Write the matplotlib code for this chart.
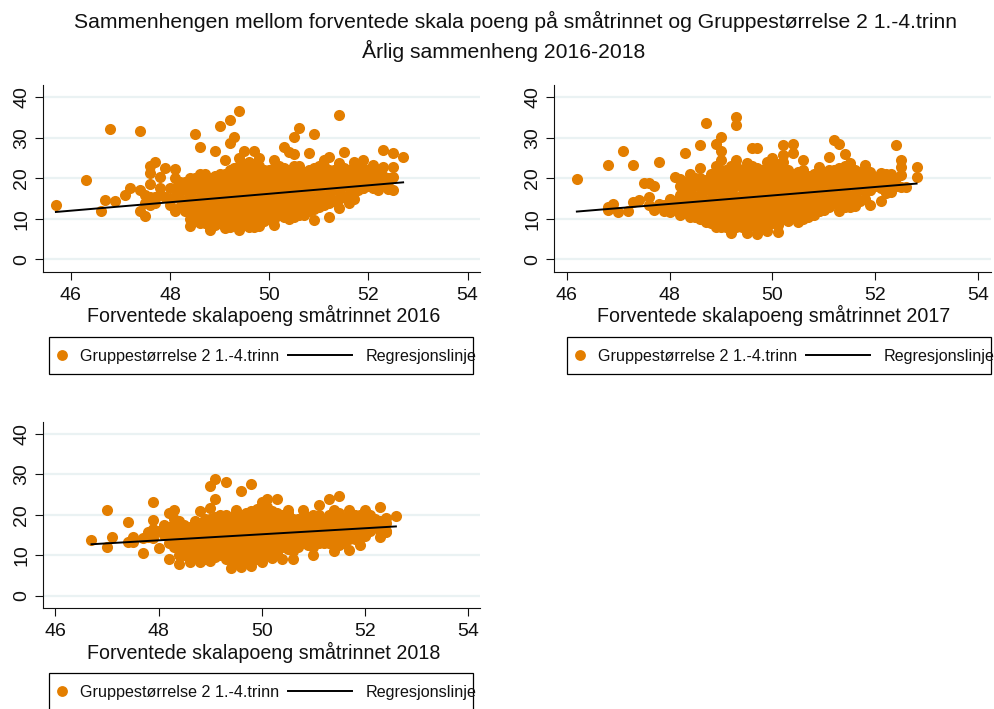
# scatter panels, forventede skalapoeng vs gruppestorrelse, one panel per year
# values, dense middle is typed column by column

import matplotlib
matplotlib.use("Agg")
import matplotlib.pyplot as plt
from matplotlib.lines import Line2D
from matplotlib.patches import Rectangle

plt.rcParams["font.family"] = ["Liberation Sans", "DejaVu Sans"]

W, H = 995, 709
ORANGE = "#E37E00"
GRID = "#EAF2F3"
TEXT = "#111111"
DOT = 64

y_ticks = [0, 10, 20, 30, 40]
x_ticks = [46, 48, 50, 52, 54]
legend_labels = ["Gruppestørrelse 2 1.-4.trinn", "Regresjonslinje"]

# 2016
x_out_2016 = [45.7, 46.3, 46.8, 47.4, 46.6, 46.7, 46.9, 47.1, 47.2, 47.4, 47.4, 47.5, 47.5, 47.6, 47.6, 47.6, 47.6,
              47.7, 47.8, 47.9, 47.8, 47.7, 48.0, 48.1, 48.1, 48.1, 48.0, 48.5, 48.6, 48.9, 49.0, 49.1, 49.2, 49.2,
              49.3, 49.4, 49.4, 49.5, 49.7, 49.8, 50.1, 50.3, 50.4, 50.5, 50.5, 50.6, 50.8, 50.9, 51.4, 51.2, 51.5,
              52.3, 52.5, 52.7, 52.5, 52.5, 52.5, 52.3, 52.1, 51.9, 51.7, 51.4, 51.1, 48.4, 48.8, 49.1, 49.4, 49.7,
              49.8, 50.1, 50.4, 50.7, 50.9, 51.2, 51.4, 51.6, 51.7, 51.9, 52.2, 52.1, 52.4,
              47.5, 47.6, 47.7, 47.8, 47.9, 48.0, 48.1, 48.1]
y_out_2016 = [13.4, 19.6, 32.2, 31.7, 11.9, 14.6, 14.4, 15.9, 17.7, 17.0, 12.0, 10.8, 13.8, 13.3, 18.6, 21.2, 23.0,
              24.0, 20.4, 22.6, 17.5, 15.5, 13.4, 11.9, 22.2, 20.0, 17.5, 31.0, 27.8, 26.7, 33.0, 24.5, 34.3, 28.6,
              30.3, 36.6, 25.0, 26.8, 26.8, 24.9, 24.5, 27.6, 26.6, 25.9, 30.3, 32.3, 26.3, 31.0, 35.7, 25.2, 26.4,
              27.0, 26.2, 25.2, 22.7, 20.2, 17.1, 22.7, 23.3, 24.5, 24.0, 23.7, 24.5, 8.2, 7.2, 7.8, 7.2, 7.9,
              8.2, 8.6, 10.5, 10.9, 9.7, 10.5, 12.6, 13.8, 15.0, 17.5, 17.1, 17.5, 17.3,
              16.0, 15.5, 14.0, 16.0, 15.5, 15.0, 15.5, 17.5]
x_core_2016 = [48.2, 48.4, 48.6, 48.8, 49.0, 49.2, 49.4, 49.6, 49.8, 50.0, 50.2,
               50.4, 50.6, 50.8, 51.0, 51.2, 51.4, 51.6, 51.8, 52.0, 52.2, 52.4]
y_core_2016 = [[13, 15, 17, 19], [10, 12, 14, 16, 18, 20], [9, 11, 13, 15, 17, 19, 21],
               [8, 10, 12, 14, 16, 18, 20], [9, 11, 13, 15, 17, 19, 21], [8, 10, 12, 14, 16, 18, 20, 22],
               [9, 11, 13, 15, 17, 19, 21, 23], [8, 10, 12, 14, 16, 18, 20, 22, 24],
               [9, 11, 13, 15, 17, 19, 21, 23], [10, 12, 14, 16, 18, 20, 22], [11, 13, 15, 17, 19, 21, 23],
               [10, 12, 14, 16, 18, 20, 22], [11, 13, 15, 17, 19, 21, 23], [12, 14, 16, 18, 20, 22],
               [13, 15, 17, 19, 21, 23], [14, 16, 18, 20, 22], [15, 17, 19, 21, 23], [16, 18, 20, 22],
               [17, 19, 21, 23], [18, 20, 22], [19, 21], [18, 20]]
x_mid_2016 = [48.3, 48.5, 48.7, 48.9, 49.1, 49.3, 49.5, 49.7, 49.9, 50.1, 50.3,
              50.5, 50.7, 50.9, 51.1, 51.3, 51.5, 51.7, 51.9, 52.1, 52.3]
y_mid_2016 = [[12, 14.5, 17, 19], [10, 12.5, 15, 17.5, 20], [9, 11.5, 14, 16.5, 19, 21],
              [8.5, 11, 13.5, 16, 18.5, 20.5], [8.5, 11, 13.5, 16, 18.5, 21], [8.5, 11, 13.5, 16, 18.5, 21, 22.5],
              [8.5, 11, 13.5, 16, 18.5, 21, 23.5], [8.5, 11, 13.5, 16, 18.5, 21, 23.5],
              [9.5, 12, 14.5, 17, 19.5, 22], [10, 12.5, 15, 17.5, 20, 22.5], [10.5, 13, 15.5, 18, 20.5, 22.5],
              [10.5, 13, 15.5, 18, 20.5, 23], [11.5, 14, 16.5, 19, 21.5], [12.5, 15, 17.5, 20, 22.5],
              [13.5, 16, 18.5, 21, 23], [14.5, 17, 19.5, 22], [15.5, 18, 20.5, 22.5], [16.5, 19, 21.5, 23],
              [17.5, 20, 22.5], [18.5, 21, 22.5], [18.5, 20.5]]
x_line_2016 = [45.7, 52.7]
y_line_2016 = [11.7, 19.0]

# 2017
x_out_2017 = [46.2, 46.8, 47.1, 47.3, 47.8, 47.5, 47.6, 47.7, 46.8, 46.9, 46.8, 47.0, 47.2, 47.3, 47.4, 47.6, 47.6,
              47.7, 47.8, 47.9, 48.0, 48.0, 48.1, 48.2, 48.3, 48.4, 48.4, 48.6, 48.6, 48.7, 48.9, 49.0, 49.0, 49.0,
              48.9, 49.3, 49.3, 49.3, 49.5, 49.6, 49.7, 49.9, 50.0, 50.2, 50.2, 50.4, 50.4, 50.6, 50.9, 51.1, 51.2,
              51.3, 51.4, 51.5, 51.8, 52.4, 52.5, 52.5, 52.5, 52.8, 52.8, 52.6, 52.5, 52.3, 52.2, 52.1, 51.9, 51.9,
              52.3, 52.1, 51.6, 51.5, 51.3, 51.0, 50.9, 50.7, 50.5, 50.1, 49.9, 49.7, 49.5, 49.2, 48.9, 48.7, 48.4,
              48.2, 47.9, 48.0, 48.1, 48.1]
y_out_2017 = [19.8, 23.3, 26.7, 23.4, 23.9, 18.8, 18.8, 18.2, 13.0, 13.7, 12.3, 11.6, 11.9, 14.2, 14.7, 15.3, 13.4,
              12.2, 13.7, 11.9, 15.0, 11.8, 20.2, 19.8, 26.2, 21.0, 20.0, 28.3, 22.5, 33.6, 28.5, 30.1, 26.7, 24.5,
              23.0, 35.2, 33.2, 24.5, 23.7, 27.4, 27.4, 24.1, 25.0, 28.2, 25.8, 28.5, 26.3, 24.5, 22.9, 25.3, 29.5,
              28.5, 26.0, 23.7, 23.3, 28.2, 24.5, 22.7, 20.8, 22.9, 20.2, 17.9, 17.9, 16.5, 16.3, 14.5, 13.4, 17.1,
              21.0, 21.4, 13.2, 13.0, 11.9, 12.2, 12.0, 10.7, 9.3, 6.8, 7.1, 6.3, 6.6, 6.6, 8.1, 9.3, 10.5,
              10.9, 13.5, 13.0, 12.5, 14.5]
x_core_2017 = [48.2, 48.4, 48.6, 48.8, 49.0, 49.2, 49.4, 49.6, 49.8, 50.0, 50.2,
               50.4, 50.6, 50.8, 51.0, 51.2, 51.4, 51.6, 51.8, 52.0, 52.2, 52.4]
y_core_2017 = [[12, 14, 16, 18], [11, 13, 15, 17, 19], [10, 12, 14, 16, 18, 20], [9, 11, 13, 15, 17, 19, 21],
               [8, 10, 12, 14, 16, 18, 20, 22], [9, 11, 13, 15, 17, 19, 21, 23], [8, 10, 12, 14, 16, 18, 20, 22],
               [9, 11, 13, 15, 17, 19, 21, 23], [8, 10, 12, 14, 16, 18, 20, 22], [9, 11, 13, 15, 17, 19, 21, 23],
               [10, 12, 14, 16, 18, 20, 22, 24], [11, 13, 15, 17, 19, 21], [10, 12, 14, 16, 18, 20, 22],
               [11, 13, 15, 17, 19, 21], [13, 15, 17, 19, 21], [14, 16, 18, 20, 22], [13, 15, 17, 19, 21, 23],
               [14, 16, 18, 20, 22], [15, 17, 19, 21], [18, 20], [17, 19, 21], [18, 20]]
x_mid_2017 = [48.3, 48.5, 48.7, 48.9, 49.1, 49.3, 49.5, 49.7, 49.9, 50.1, 50.3,
              50.5, 50.7, 50.9, 51.1, 51.3, 51.5, 51.7, 51.9, 52.1, 52.3]
y_mid_2017 = [[11.5, 14, 16.5, 18], [10.5, 13, 15.5, 18, 20], [9.5, 12, 14.5, 17, 19.5],
              [8.5, 11, 13.5, 16, 18.5, 21], [8, 10.5, 13, 15.5, 18, 20.5, 22], [8, 10.5, 13, 15.5, 18, 20.5, 23],
              [7.5, 10, 12.5, 15, 17.5, 20, 22.5], [7.5, 10, 12.5, 15, 17.5, 20, 22.5],
              [8, 10.5, 13, 15.5, 18, 20.5, 22.5], [8.5, 11, 13.5, 16, 18.5, 21, 23.5],
              [9.5, 12, 14.5, 17, 19.5, 22], [10, 12.5, 15, 17.5, 20, 21.5], [10.5, 13, 15.5, 18, 20.5],
              [12, 14.5, 17, 19.5, 21.5], [13, 15.5, 18, 20.5, 22], [13, 15.5, 18, 20.5, 22.5],
              [13.5, 16, 18.5, 21, 23], [14.5, 17, 19.5, 21.5], [17, 19.5, 21.5], [17.5, 20, 21], [18, 20.5]]
x_line_2017 = [46.2, 52.8]
y_line_2017 = [11.8, 18.7]

# 2018
x_out_2018 = [46.7, 47.0, 47.0, 47.1, 47.4, 47.4, 47.5, 47.5, 47.7, 47.7, 47.8, 47.9, 47.9, 47.9, 48.0, 48.1, 48.2,
              48.2, 48.3, 48.4, 48.4, 48.6, 48.8, 48.8, 49.0, 49.0, 49.0, 49.1, 49.1, 49.3, 49.4, 49.5, 49.6, 49.6,
              49.8, 49.8, 50.0, 50.1, 50.0, 50.2, 50.3, 50.4, 50.5, 50.6, 50.8, 51.0, 51.1, 51.3, 51.5, 51.4, 51.4,
              51.5, 51.7, 51.7, 51.9, 52.0, 52.3, 52.3, 52.4, 52.4, 52.6, 52.1, 52.0, 47.8, 48.0, 48.1, 47.9]
y_out_2018 = [13.8, 21.2, 11.9, 14.6, 18.3, 13.2, 14.6, 13.2, 10.6, 14.2, 15.8, 23.1, 18.6, 14.2, 11.7, 17.5, 20.4,
              9.0, 21.2, 18.5, 7.8, 8.2, 20.8, 8.2, 27.0, 21.6, 8.6, 28.9, 23.8, 28.0, 6.9, 21.2, 25.9, 7.2,
              27.6, 7.4, 23.1, 23.9, 8.2, 9.2, 23.8, 9.0, 21.2, 9.0, 21.2, 10.0, 22.4, 23.8, 24.6, 21.2, 11.0,
              12.5, 21.2, 11.3, 12.5, 21.2, 22.0, 14.6, 19.3, 15.7, 19.7, 16.2, 14.8, 14.5, 16.0, 15.0, 16.5]
x_core_2018 = [48.2, 48.4, 48.6, 48.8, 49.0, 49.2, 49.4, 49.6, 49.8, 50.0, 50.2,
               50.4, 50.6, 50.8, 51.0, 51.2, 51.4, 51.6, 51.8, 52.0, 52.2, 52.4]
y_core_2018 = [[13, 15, 17], [10, 12, 14, 16], [9, 11, 13, 15, 17], [10, 12, 14, 16, 18], [9, 11, 13, 15, 17, 19],
               [10, 12, 14, 16, 18, 20], [9, 11, 13, 15, 17, 19], [10, 12, 14, 16, 18, 20],
               [9, 11, 13, 15, 17, 19, 21], [10, 12, 14, 16, 18, 20, 22], [11, 13, 15, 17, 19, 21],
               [12, 14, 16, 18, 20], [11, 13, 15, 17, 19], [13, 15, 17, 19], [12, 14, 16, 18, 20], [13, 15, 17, 19],
               [14, 16, 18, 20], [13, 15, 17, 19], [14, 16, 18, 20], [16, 18, 20], [17, 19], [16, 18]]
x_mid_2018 = [48.3, 48.5, 48.7, 48.9, 49.1, 49.3, 49.5, 49.7, 49.9, 50.1, 50.3,
              50.5, 50.7, 50.9, 51.1, 51.3, 51.5, 51.7, 51.9, 52.1, 52.3]
y_mid_2018 = [[12, 14.5, 17, 19], [10, 12.5, 15, 17.5], [9.5, 12, 14.5, 17, 18.5], [9, 11.5, 14, 16.5, 19],
              [9.5, 12, 14.5, 17, 19.5], [9, 11.5, 14, 16.5, 19, 20], [8.5, 11, 13.5, 16, 18.5, 20.5],
              [8.5, 11, 13.5, 16, 18.5, 20.5], [9, 11.5, 14, 16.5, 19, 21.5], [10, 12.5, 15, 17.5, 20, 22],
              [10.5, 13, 15.5, 18, 20.5], [11.5, 14, 16.5, 19, 20.5], [12, 14.5, 17, 19], [12.5, 15, 17.5, 19.5],
              [13, 15.5, 18, 20], [13, 15.5, 18, 20], [14, 16.5, 19, 20.5], [14, 16.5, 19, 20], [15, 17.5, 20],
              [16, 18.5, 20], [16, 18.5]]
x_line_2018 = [46.7, 52.6]
y_line_2018 = [12.7, 17.1]


def px_x(v):
    return v / W


def px_y(v):
    return 1 - v / H


def panel(box, xlim, ylim, points, columns, line, xlabel, label_x, ticklabel_y, label_y):
    left, right, top, bottom = box
    ax = fig.add_axes([left / W, 1 - bottom / H, (right - left) / W, (bottom - top) / H])
    ax.set_xlim(*xlim)
    ax.set_ylim(*ylim)
    ax.spines["top"].set_visible(False)
    ax.spines["right"].set_visible(False)
    for side in ["left", "bottom"]:
        ax.spines[side].set_linewidth(0.8)
        ax.spines[side].set_color(TEXT)
    ax.set_yticks(y_ticks)
    ax.set_xticks(x_ticks)
    ax.tick_params(length=6, width=0.8, color=TEXT, labelsize=14, labelcolor=TEXT)
    ax.tick_params(axis="y", labelrotation=90, pad=3)
    ax.tick_params(axis="x", labelbottom=False)
    for label in ax.get_yticklabels():
        label.set_va("center")
    ax.yaxis.grid(True, color=GRID, lw=1.6)
    ax.set_axisbelow(True)

    # x tick labels sit at their own height in the original, closer than tick pad allows
    for v in x_ticks:
        tx = ax.transData.transform((v, 0))[0] / W
        fig.text(tx, px_y(ticklabel_y), str(v), ha="center", va="center", fontsize=14, color=TEXT)

    ax.scatter(points[0], points[1], s=DOT, color=ORANGE, linewidths=0, zorder=2)
    for xs, ys in columns:
        for xc, col in zip(xs, ys):
            ax.scatter([xc] * len(col), col, s=DOT, color=ORANGE, linewidths=0, zorder=2)
    ax.plot(line[0], line[1], color="black", lw=1.4, zorder=3)

    fig.text(px_x(label_x), px_y(label_y), xlabel, ha="center", va="center", fontsize=14.15, color=TEXT)
    return ax


def legend_box(left, right, top, bottom, marker_x, text_x, line_x0, line_x1, reg_x, mid_y):
    fig.add_artist(Rectangle((px_x(left), px_y(bottom)), (right - left) / W, (bottom - top) / H,
                             transform=fig.transFigure, fill=False, edgecolor="black", lw=0.9, clip_on=False))
    fig.add_artist(Line2D([px_x(marker_x)], [px_y(mid_y)], transform=fig.transFigure, marker="o",
                          color=ORANGE, markersize=7.8, markeredgewidth=0, linestyle="none"))
    fig.text(px_x(text_x), px_y(mid_y + 1), legend_labels[0], ha="left", va="center", fontsize=11.6, color=TEXT)
    fig.add_artist(Line2D([px_x(line_x0), px_x(line_x1)], [px_y(mid_y)] * 2, transform=fig.transFigure,
                          color="black", lw=1.4))
    fig.text(px_x(reg_x), px_y(mid_y + 1), legend_labels[1], ha="left", va="center", fontsize=11.6, color=TEXT)


fig = plt.figure(figsize=(W / 100, H / 100), dpi=100)

fig.text(px_x(515), px_y(21), "Sammenhengen mellom forventede skala poeng på småtrinnet og Gruppestørrelse 2 1.-4.trinn",
         ha="center", va="center", fontsize=15.2, color=TEXT)
fig.text(px_x(504), px_y(51), "Årlig sammenheng 2016-2018", ha="center", va="center", fontsize=15.2, color=TEXT)

panel((43, 480, 85, 272), (45.44, 54.25), (-3.1, 43.0), (x_out_2016, y_out_2016),
      [(x_core_2016, y_core_2016), (x_mid_2016, y_mid_2016)], (x_line_2016, y_line_2016),
      "Forventede skalapoeng småtrinnet 2016", 264, 295, 315)
panel((553.7, 990.7, 85, 272), (45.75, 54.24), (-3.1, 43.0), (x_out_2017, y_out_2017),
      [(x_core_2017, y_core_2017), (x_mid_2017, y_mid_2017)], (x_line_2017, y_line_2017),
      "Forventede skalapoeng småtrinnet 2017", 774, 295, 315)
panel((43, 480, 422, 608), (45.76, 54.23), (-3.05, 42.9), (x_out_2018, y_out_2018),
      [(x_core_2018, y_core_2018), (x_mid_2018, y_mid_2018)], (x_line_2018, y_line_2018),
      "Forventede skalapoeng småtrinnet 2018", 264, 632, 652)

legend_box(49, 473, 337, 374, 62, 80, 288, 352, 366, 355)
legend_box(567.5, 991, 337, 374, 580, 598, 806, 870, 884, 355)
legend_box(49, 473, 672.5, 712, 62, 80, 288, 352, 366, 691)

fig.savefig("out.png", dpi=100)
